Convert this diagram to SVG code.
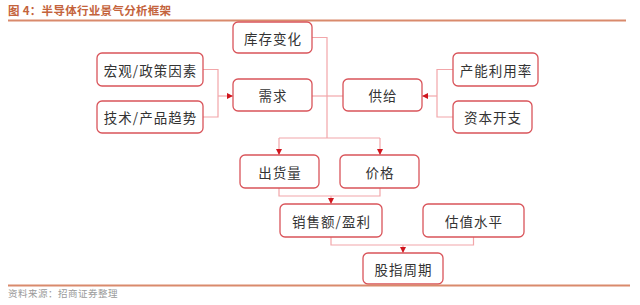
<svg xmlns="http://www.w3.org/2000/svg" width="640" height="305" viewBox="0 0 640 305">
<style>
.box{fill:#fff;stroke:#d9545a;stroke-width:1.3}
.t{font-family:"Noto Sans CJK SC",sans-serif;font-size:13.5px;fill:#333;text-anchor:middle;dominant-baseline:central;letter-spacing:1px}
.c{fill:none;stroke:#f2a6a9;stroke-width:1.2}
</style>
<defs>
<marker id="a" viewBox="0 0 6 6" refX="6" refY="3" markerWidth="6" markerHeight="6" orient="auto" markerUnits="userSpaceOnUse">
<path d="M0,0 L6,3 L0,6 Z" fill="#d0161e"/>
</marker>
</defs>
<rect width="640" height="305" fill="#fff"/>
<text x="8" y="15" font-family="Noto Sans CJK SC,sans-serif" font-size="11.5" font-weight="bold" fill="#c4633c" letter-spacing="0.3">图 4：半导体行业景气分析框架</text>
<line x1="8" y1="20.5" x2="626" y2="20.5" stroke="#d98a6c" stroke-width="2"/>
<g id="connectors">
<path class="c" d="M203,69.5 H218 V117 H203"/>
<path class="c" d="M218,96 H233" marker-end="url(#a)"/>
<path class="c" d="M453,69.5 H437 V117 H453"/>
<path class="c" d="M437,96 H422" marker-end="url(#a)"/>
<path class="c" d="M312,37.5 H327 V138"/>
<path class="c" d="M312,96 H343"/>
<path class="c" d="M279,138 H380"/>
<path class="c" d="M279,138 V155" marker-end="url(#a)"/>
<path class="c" d="M380,138 V155" marker-end="url(#a)"/>
<path class="c" d="M279,188 V196 H380 V188"/>
<path class="c" d="M331,196 V204" marker-end="url(#a)"/>
<path class="c" d="M331,237 V245 H473.5 V237"/>
<path class="c" d="M403,245 V253" marker-end="url(#a)"/>
</g>
<g id="kucun"><rect class="box" x="233" y="22" width="79" height="31" rx="5"/><text class="t" x="273" y="37.5">库存变化</text></g>
<g id="hongguan"><rect class="box" x="97" y="53" width="106" height="33" rx="5"/><text class="t" x="150.5" y="69.5">宏观/政策因素</text></g>
<g id="jishu"><rect class="box" x="97" y="101" width="106" height="32" rx="5"/><text class="t" x="150.5" y="117">技术/产品趋势</text></g>
<g id="xuqiu"><rect class="box" x="233" y="79" width="79" height="32" rx="5"/><text class="t" x="273" y="95">需求</text></g>
<g id="gongji"><rect class="box" x="343" y="79" width="79" height="32" rx="5"/><text class="t" x="383" y="95">供给</text></g>
<g id="channeng"><rect class="box" x="453" y="53" width="85" height="33" rx="5"/><text class="t" x="496" y="69.5">产能利用率</text></g>
<g id="ziben"><rect class="box" x="453" y="101" width="79" height="32" rx="5"/><text class="t" x="493" y="117">资本开支</text></g>
<g id="chuhuo"><rect class="box" x="240" y="155" width="79" height="33" rx="5"/><text class="t" x="280" y="171.5">出货量</text></g>
<g id="jiage"><rect class="box" x="340" y="155" width="79" height="33" rx="5"/><text class="t" x="380" y="171.5">价格</text></g>
<g id="xiaoshou"><rect class="box" x="280" y="204" width="102" height="33" rx="5"/><text class="t" x="331.5" y="220.5">销售额/盈利</text></g>
<g id="guzhi"><rect class="box" x="423" y="204" width="101" height="33" rx="5"/><text class="t" x="474" y="220.5">估值水平</text></g>
<g id="guzhi-cycle"><rect class="box" x="363" y="253" width="80" height="31" rx="5"/><text class="t" x="403.5" y="268.5">股指周期</text></g>
<line x1="8" y1="285.5" x2="630" y2="285.5" stroke="#d98a6c" stroke-width="2"/>
<text x="8" y="297" font-family="Noto Sans CJK SC,sans-serif" font-size="9.5" fill="#9a9a9a" letter-spacing="0.5">资料来源：招商证券整理</text>
</svg>
